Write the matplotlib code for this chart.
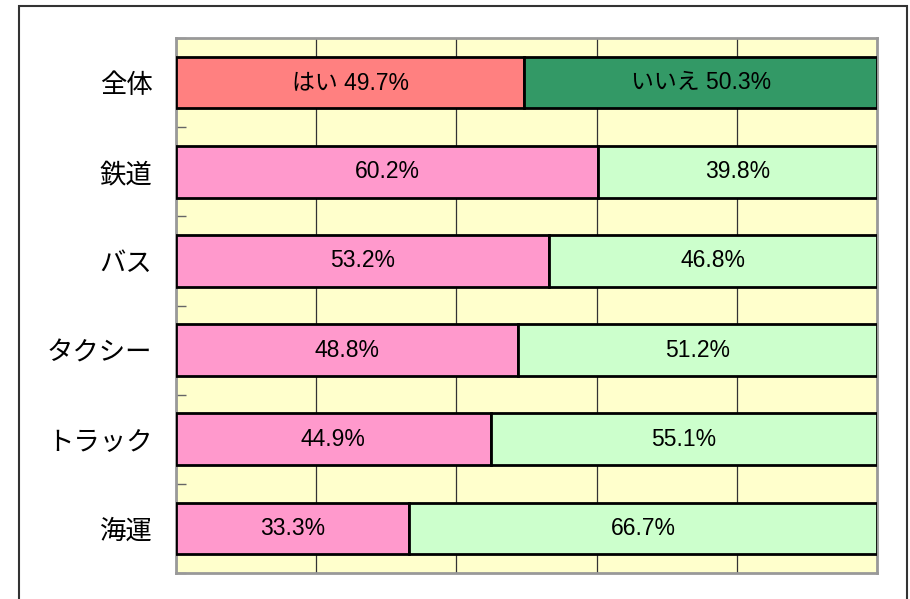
import matplotlib.pyplot as plt
from matplotlib.patches import Rectangle

categories = ["全体", "鉄道", "バス", "タクシー", "トラック", "海運"]
yes_pct = [49.7, 60.2, 53.2, 48.8, 44.9, 33.3]
no_pct = [50.3, 39.8, 46.8, 51.2, 55.1, 66.7]
yes_prefix = ["はい ", "", "", "", "", ""]
no_prefix = ["いいえ ", "", "", "", "", ""]

yes_colors = ["#FF8080"] + ["#FF99CC"] * 5
no_colors = ["#339966"] + ["#CCFFCC"] * 5

W, H = 910, 599
fig = plt.figure(figsize=(W / 100, H / 100), dpi=100)
fig.patch.set_facecolor("white")

# outer chart frame
fig.patches.append(Rectangle((19 / W, -0.05), (907 - 19) / W, 1.05 - 6 / H,
                             transform=fig.transFigure, fill=False,
                             edgecolor="#333333", linewidth=1.5))

ax = fig.add_axes([176 / W, 1 - 573 / H, (877 - 176) / W, (573 - 38) / H])
ax.set_facecolor("#FFFFCC")

n = len(categories)
ypos = list(range(n))
bar_h = 0.58

ax.barh(ypos, yes_pct, height=bar_h, color=yes_colors, edgecolor="black",
        linewidth=2, zorder=3)
ax.barh(ypos, no_pct, left=yes_pct, height=bar_h, color=no_colors,
        edgecolor="black", linewidth=2, zorder=3)

lab_font = ["Liberation Sans", "Noto Sans CJK JP"]
for i in range(n):
    ax.text(yes_pct[i] / 2, i, f"{yes_prefix[i]}{yes_pct[i]:.1f}%",
            ha="center", va="center", fontsize=16.5, family=lab_font, zorder=4)
    ax.text(yes_pct[i] + no_pct[i] / 2, i, f"{no_prefix[i]}{no_pct[i]:.1f}%",
            ha="center", va="center", fontsize=16.5, family=lab_font, zorder=4)

ax.set_xlim(0, 100)
ax.set_ylim(n - 0.5, -0.5)
ax.set_xticks([0, 20, 40, 60, 80, 100])
ax.xaxis.grid(True, color="#333333", linewidth=0.9, zorder=1)
ax.tick_params(axis="x", length=0, labelbottom=False)

ax.set_yticks(ypos)
ax.set_yticklabels(categories, family=["Noto Sans CJK JP"], fontsize=19)
ax.set_yticks([i - 0.5 for i in range(n + 1)], minor=True)
ax.tick_params(axis="y", which="major", length=0, pad=17)
ax.tick_params(axis="y", which="minor", direction="in", length=7,
               color="#666666", width=1)

for s in ax.spines.values():
    s.set_color("#999999")
    s.set_linewidth(2)

fig.savefig("out.png", dpi=100)
